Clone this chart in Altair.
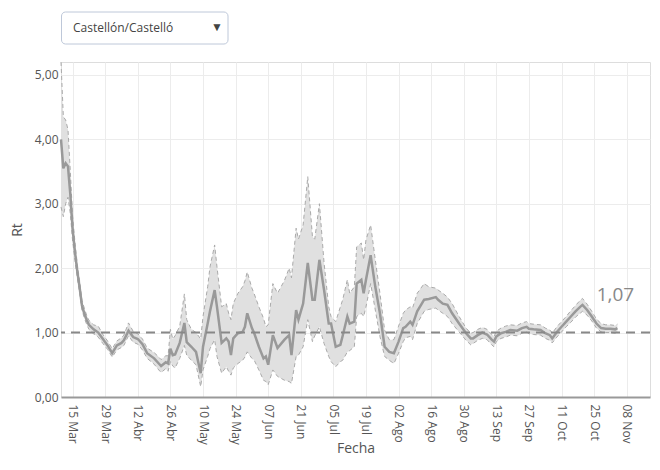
import altair as alt
import pandas as pd

# ---- data ----
fechas = [
    "2020-03-10", "2020-03-11", "2020-03-12", "2020-03-13", "2020-03-14", "2020-03-15",
    "2020-03-16", "2020-03-17", "2020-03-18", "2020-03-19", "2020-03-20", "2020-03-21",
    "2020-03-22", "2020-03-24", "2020-03-26", "2020-03-28", "2020-03-30", "2020-04-01",
    "2020-04-03", "2020-04-05", "2020-04-06", "2020-04-08", "2020-04-10", "2020-04-12",
    "2020-04-14", "2020-04-16", "2020-04-19", "2020-04-21", "2020-04-22", "2020-04-24",
    "2020-04-25", "2020-04-26", "2020-04-27", "2020-04-28", "2020-04-30", "2020-05-02",
    "2020-05-03", "2020-05-05", "2020-05-07", "2020-05-09", "2020-05-10", "2020-05-12",
    "2020-05-13", "2020-05-15", "2020-05-16", "2020-05-18", "2020-05-20", "2020-05-21",
    "2020-05-22", "2020-05-23", "2020-05-25", "2020-05-27", "2020-05-28", "2020-05-29",
    "2020-05-31", "2020-06-01", "2020-06-03", "2020-06-05", "2020-06-06", "2020-06-07",
    "2020-06-09", "2020-06-11", "2020-06-14", "2020-06-16", "2020-06-17", "2020-06-19",
    "2020-06-20", "2020-06-22", "2020-06-24", "2020-06-26", "2020-06-27", "2020-06-29",
    "2020-07-01", "2020-07-03", "2020-07-04", "2020-07-06", "2020-07-08", "2020-07-09",
    "2020-07-11", "2020-07-12", "2020-07-14", "2020-07-15", "2020-07-17", "2020-07-18",
    "2020-07-19", "2020-07-21", "2020-07-23", "2020-07-25", "2020-07-27", "2020-07-29",
    "2020-07-31", "2020-08-02", "2020-08-04", "2020-08-05", "2020-08-07", "2020-08-08",
    "2020-08-10", "2020-08-13", "2020-08-15", "2020-08-18", "2020-08-19", "2020-08-21",
    "2020-08-23", "2020-08-25", "2020-08-28", "2020-08-31", "2020-09-02", "2020-09-03",
    "2020-09-05", "2020-09-07", "2020-09-09", "2020-09-11", "2020-09-12", "2020-09-13",
    "2020-09-15", "2020-09-17", "2020-09-19", "2020-09-22", "2020-09-24", "2020-09-26",
    "2020-09-27", "2020-09-29", "2020-10-02", "2020-10-04", "2020-10-06", "2020-10-07",
    "2020-10-09", "2020-10-11", "2020-10-13", "2020-10-15", "2020-10-17", "2020-10-19",
    "2020-10-20", "2020-10-22", "2020-10-24", "2020-10-26", "2020-10-28", "2020-10-30",
    "2020-11-01", "2020-11-03", "2020-11-04",
]
rt_mid = [
    4.00, 3.55, 3.63, 3.58, 3.15, 2.60,
    2.25, 1.95, 1.70, 1.42, 1.30, 1.20,
    1.12, 1.05, 1.00, 0.90, 0.80, 0.68,
    0.80, 0.84, 0.88, 1.03, 0.93, 0.90,
    0.82, 0.68, 0.60, 0.52, 0.48, 0.54,
    0.52, 0.75, 0.65, 0.66, 0.84, 1.15,
    0.85, 0.78, 0.70, 0.37, 0.78, 1.14,
    1.33, 1.66, 1.40, 0.84, 0.91, 0.86,
    0.65, 0.91, 0.99, 1.01, 1.09, 1.30,
    1.07, 0.99, 0.78, 0.60, 0.63, 0.50,
    0.96, 0.76, 0.89, 0.96, 0.65, 1.35,
    1.20, 1.45, 2.08, 1.51, 1.51, 2.13,
    1.66, 1.14, 1.14, 0.78, 0.81, 0.95,
    1.25, 1.14, 1.17, 1.76, 1.82, 1.61,
    1.82, 2.20, 1.71, 1.30, 0.78, 0.70,
    0.68, 0.86, 1.07, 1.09, 1.17, 1.12,
    1.33, 1.51, 1.52, 1.55, 1.51, 1.45,
    1.43, 1.30, 1.14, 0.99, 0.91, 0.91,
    0.96, 1.00, 0.97, 0.89, 0.86, 0.94,
    0.99, 1.01, 1.04, 1.03, 1.07, 1.09,
    1.06, 1.05, 1.04, 0.99, 0.96, 0.91,
    1.01, 1.09, 1.17, 1.25, 1.33, 1.40,
    1.43, 1.35, 1.25, 1.14, 1.07, 1.06,
    1.06, 1.05, 1.07,
]
rt_low = [
    2.95, 2.80, 3.00, 3.10, 2.85, 2.42,
    2.12, 1.85, 1.61, 1.35, 1.23, 1.13,
    1.05, 0.98, 0.93, 0.83, 0.74, 0.62,
    0.73, 0.77, 0.80, 0.95, 0.85, 0.82,
    0.73, 0.60, 0.51, 0.42, 0.38, 0.44,
    0.40, 0.55, 0.48, 0.45, 0.60, 0.80,
    0.65, 0.57, 0.50, 0.16, 0.42, 0.63,
    0.75, 0.89, 0.63, 0.37, 0.47, 0.40,
    0.34, 0.45, 0.52, 0.57, 0.62, 0.70,
    0.60, 0.57, 0.42, 0.26, 0.24, 0.19,
    0.42, 0.32, 0.26, 0.24, 0.21, 0.63,
    0.65, 0.78, 1.20, 0.86, 0.95, 1.09,
    0.83, 0.63, 0.55, 0.47, 0.55, 0.57,
    0.70, 0.72, 0.78, 1.25, 1.30, 1.25,
    1.40, 1.76, 1.35, 0.94, 0.63, 0.57,
    0.52, 0.68, 0.86, 0.92, 0.94, 0.89,
    1.14, 1.33, 1.36, 1.38, 1.35, 1.30,
    1.25, 1.14, 1.01, 0.88, 0.81, 0.83,
    0.88, 0.91, 0.89, 0.81, 0.78, 0.86,
    0.91, 0.93, 0.96, 0.95, 0.99, 1.01,
    0.98, 0.97, 0.96, 0.91, 0.88, 0.84,
    0.93, 1.01, 1.09, 1.16, 1.24, 1.30,
    1.33, 1.27, 1.18, 1.07, 1.01, 1.00,
    1.00, 0.99, 1.01,
]
rt_high = [
    5.20, 4.35, 4.30, 4.15, 3.50, 2.80,
    2.40, 2.06, 1.80, 1.50, 1.38, 1.27,
    1.19, 1.12, 1.10, 0.97, 0.87, 0.75,
    0.87, 0.92, 0.96, 1.15, 1.02, 0.98,
    0.90, 0.76, 0.69, 0.62, 0.58, 0.64,
    0.64, 1.05, 0.90, 0.95, 1.10, 1.60,
    1.20, 1.05, 1.00, 0.90, 1.25, 1.71,
    2.02, 2.36, 2.02, 1.40, 1.45, 1.30,
    1.20, 1.45, 1.61, 1.71, 1.80, 1.94,
    1.69, 1.60, 1.40, 1.22, 1.09, 1.12,
    1.76, 1.61, 1.81, 2.00, 1.85, 2.62,
    2.45, 2.67, 3.42, 2.49, 2.45, 3.00,
    2.08, 1.40, 1.25, 1.17, 1.40, 1.51,
    1.82, 1.61, 1.71, 2.33, 2.39, 2.13,
    2.44, 2.67, 2.13, 1.61, 1.04, 0.89,
    0.89, 1.10, 1.30, 1.35, 1.40, 1.38,
    1.61, 1.76, 1.71, 1.69, 1.66, 1.61,
    1.55, 1.45, 1.25, 1.07, 0.99, 1.00,
    1.05, 1.08, 1.05, 0.97, 0.94, 1.02,
    1.07, 1.10, 1.12, 1.11, 1.15, 1.17,
    1.14, 1.13, 1.12, 1.07, 1.04, 0.99,
    1.09, 1.17, 1.25, 1.34, 1.42, 1.50,
    1.53, 1.44, 1.33, 1.21, 1.14, 1.12,
    1.12, 1.11, 1.13,
]
tick_fechas = [
    "2020-03-15", "2020-03-29", "2020-04-12", "2020-04-26", "2020-05-10", "2020-05-24",
    "2020-06-07", "2020-06-21", "2020-07-05", "2020-07-19", "2020-08-02", "2020-08-16",
    "2020-08-30", "2020-09-13", "2020-09-27", "2020-10-11", "2020-10-25", "2020-11-08",
]
meses = ["Ene", "Feb", "Mar", "Abr", "May", "Jun", "Jul", "Ago", "Sep", "Oct", "Nov", "Dic"]
y_ticks = [0, 1, 2, 3, 4, 5]
x_domain = ["2020-03-10", "2020-11-18"]
y_domain = [0, 5.2]
umbral = 1
provincia = "Castellón/Castelló"

# ---- build ----
def ms(s):
    return int(pd.Timestamp(s, tz="UTC").value // 1_000_000)

df = pd.DataFrame({"fecha": fechas, "rt": rt_mid, "lo": rt_low, "hi": rt_high})
last = pd.DataFrame({"fecha": [fechas[-1]], "rt": [rt_mid[-1]],
                     "txt": [f"{rt_mid[-1]:.2f}".replace(".", ",")]})

FONT = "Open Sans"
mes_arr = "[" + ",".join(f"'{m}'" for m in meses) + "]"

x_scale = alt.Scale(type="utc", domain=[ms(d) for d in x_domain])
y_scale = alt.Scale(domain=y_domain, nice=False)

x_axis = alt.Axis(
    values=[ms(d) for d in tick_fechas], tickCount=40,
    labelExpr="utcFormat(datum.value, '%d') + ' ' + " + mes_arr + "[utcmonth(datum.value)]",
    labelAngle=90, labelPadding=7, tickSize=0, labelFontSize=12, labelColor="#555",
    labelFont=FONT, labelOverlap=False, labelFlush=False,
    grid=True, gridColor="#ececec", domainColor="#999", domainWidth=2,
    title="Fecha", titleFont=FONT, titleFontSize=14, titleFontWeight="normal",
    titleColor="#555", titleBaseline="middle", titleY=51,
)
y_axis = alt.Axis(
    values=y_ticks, tickCount=10, labelExpr="replace(format(datum.value, '.2f'), '.', ',')",
    tickSize=0, labelPadding=3, labelFontSize=12, labelColor="#555", labelFont=FONT,
    labelOverlap=False, labelFlush=False,
    grid=True, gridColor="#ececec", domain=False,
    title="Rt", titleFont=FONT, titleFontSize=14, titleFontWeight="normal",
    titleColor="#555", titleX=-37,
)

base = alt.Chart(df)

band = base.mark_area(color="#e0e0e0", opacity=1).encode(
    x=alt.X("fecha:T", scale=x_scale, axis=x_axis),
    y=alt.Y("lo:Q", scale=y_scale, axis=y_axis),
    y2="hi:Q",
)
hi_line = base.mark_line(color="#aaaaaa", strokeWidth=1, strokeDash=[4, 3]).encode(
    x="fecha:T", y="hi:Q")
lo_line = base.mark_line(color="#aaaaaa", strokeWidth=1, strokeDash=[4, 3]).encode(
    x="fecha:T", y="lo:Q")
mid_line = base.mark_line(color="#999999", strokeWidth=2.5).encode(x="fecha:T", y="rt:Q")

rule = alt.Chart(pd.DataFrame({"u": [umbral]})).mark_rule(
    color="#888888", strokeWidth=2, strokeDash=[9, 6]).encode(y="u:Q")

label = alt.Chart(last).mark_text(
    font=FONT, fontSize=19, color="#888888", dy=-33, dx=-2, baseline="middle", align="center"
).encode(x="fecha:T", y="rt:Q", text="txt:N")

menu_df = pd.DataFrame({"t": [provincia]})
menu_box = alt.Chart(menu_df).mark_rect(
    fill="white", stroke="#bec8d9", strokeWidth=1, cornerRadius=4
).encode(x=alt.value(0.5), x2=alt.value(167), y=alt.value(-50), y2=alt.value(-18))
menu_txt = alt.Chart(menu_df).mark_text(
    font=FONT, fontSize=12, color="#444", align="left", baseline="middle"
).encode(x=alt.value(12), y=alt.value(-34), text="t:N")
menu_arrow = alt.Chart(menu_df).mark_text(
    font=FONT, fontSize=12, color="#444", align="center", baseline="middle"
).encode(x=alt.value(156), y=alt.value(-35), text=alt.value("▼"))

chart = alt.layer(
    band, hi_line, lo_line, mid_line, rule, label, menu_box, menu_txt, menu_arrow
).properties(
    width=589, height=335,
    autosize=alt.AutoSizeParams(type="none"),
    padding={"left": 53, "top": 54, "right": 2, "bottom": 58},
).configure_view(stroke=None).configure(background="white")

chart.save("out.html", embed_options={"renderer": "svg", "actions": False})
